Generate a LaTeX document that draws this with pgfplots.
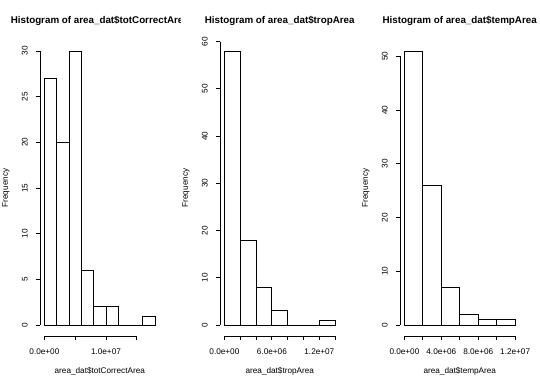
\documentclass[border=0pt]{standalone}
\usepackage{pgfplots}
\pgfplotsset{compat=1.18}
\usepackage{fontspec}
\setmainfont{Liberation Sans}
\newcommand{\rfont}{\fontsize{8.2}{9.8}\selectfont}
\newcommand{\tfont}{\fontsize{9.8}{11.8}\selectfont\bfseries}
\pgfplotsset{
  rhist/.style={
    scale only axis,
    anchor=south west,
    height=296pt,
    width=119.6pt,
    clip=false,
    axis x line*=bottom,
    axis y line*=left,
    axis line style={draw=none},
    tick align=outside,
    major tick length=4pt,
    every tick/.style={black, line width=0.8pt},
    scaled x ticks=false,
    scaled y ticks=false,
    /pgf/number format/assume math mode=true,
    tick label style={font=\rfont},
    xticklabel style={anchor=north, inner sep=0pt},
    yticklabel style={rotate=90, anchor=south, inner sep=0pt},
    xticklabel shift=8.5pt,
    yticklabel shift=8pt,
    ylabel={Frequency},
    every axis y label/.style={at={(axis description cs:-0.2843,0.5)}, rotate=90, anchor=center, font=\rfont},
    every axis x label/.style={at={(axis description cs:0.5,-0.1182)}, anchor=center, font=\rfont},
  },
  rline/.style={black, line width=0.8pt, mark=none, forget plot},
  rbar/.style={ybar interval, draw=black, fill=white, line width=0.8pt, forget plot},
}
\begin{document}
\begin{tikzpicture}
\useasboundingbox[fill=white] (0,0) rectangle (540pt,386pt);
% Panel 1
\begin{axis}[rhist, at={(40pt,50pt)},
  xmin=-0.72e6, xmax=18.72e6, ymin=-1.2, ymax=31.2,
  xtick={0,5e6,1e7,1.5e7}, xticklabels={0.0e+00,,1.0e+07,},
  ytick={0,5,10,15,20,25,30},
  xlabel={area\_dat\$totCorrectArea}]
\addplot[rbar] coordinates {
(0,27) (2e6,20) (4e6,30) (6e6,6) (8e6,2) (10e6,2) (12e6,0) (14e6,0) (16e6,1) (18e6,1)};
\addplot[rline] coordinates {(0,0) (18e6,0)};
\addplot[rline] coordinates {(-0.72e6,0) (-0.72e6,30)};
\addplot[rline] coordinates {(0,-1.2) (1.5e7,-1.2)};
\end{axis}
% Panel 2
\begin{axis}[rhist, at={(220pt,50pt)},
  xmin=-0.56e6, xmax=14.56e6, ymin=-2.32, ymax=60.32,
  xtick={0,2e6,4e6,6e6,8e6,10e6,12e6,14e6}, xticklabels={0.0e+00,,,6.0e+06,,,1.2e+07,},
  ytick={0,10,20,30,40,50,60},
  xlabel={area\_dat\$tropArea}]
\addplot[rbar] coordinates {
(0,58) (2e6,18) (4e6,8) (6e6,3) (8e6,0) (10e6,0) (12e6,1) (14e6,1)};
\addplot[rline] coordinates {(0,0) (14e6,0)};
\addplot[rline] coordinates {(-0.56e6,0) (-0.56e6,60)};
\addplot[rline] coordinates {(0,-2.32) (14e6,-2.32)};
\end{axis}
% Panel 3
\begin{axis}[rhist, at={(400pt,50pt)},
  xmin=-0.48e6, xmax=12.48e6, ymin=-2.04, ymax=53.04,
  xtick={0,2e6,4e6,6e6,8e6,10e6,12e6}, xticklabels={0.0e+00,,4.0e+06,,8.0e+06,,1.2e+07},
  ytick={0,10,20,30,40,50},
  xlabel={area\_dat\$tempArea}]
\addplot[rbar] coordinates {
(0,51) (2e6,26) (4e6,7) (6e6,2) (8e6,1) (10e6,1) (12e6,1)};
\addplot[rline] coordinates {(-0.48e6,0) (-0.48e6,50)};
\addplot[rline] coordinates {(0,-2.04) (12e6,-2.04)};
\end{axis}
% Titles
\begin{scope}
\clip (0,0) rectangle (180pt,386pt);
\node[font=\tfont, anchor=center] at (99.8pt,365.3pt) {Histogram of area\_dat\$totCorrectArea};
\end{scope}
\node[font=\tfont, anchor=center] at (279.7pt,365.3pt) {Histogram of area\_dat\$tropArea};
\node[font=\tfont, anchor=center] at (459.7pt,365.3pt) {Histogram of area\_dat\$tempArea};
\end{tikzpicture}
\end{document}
